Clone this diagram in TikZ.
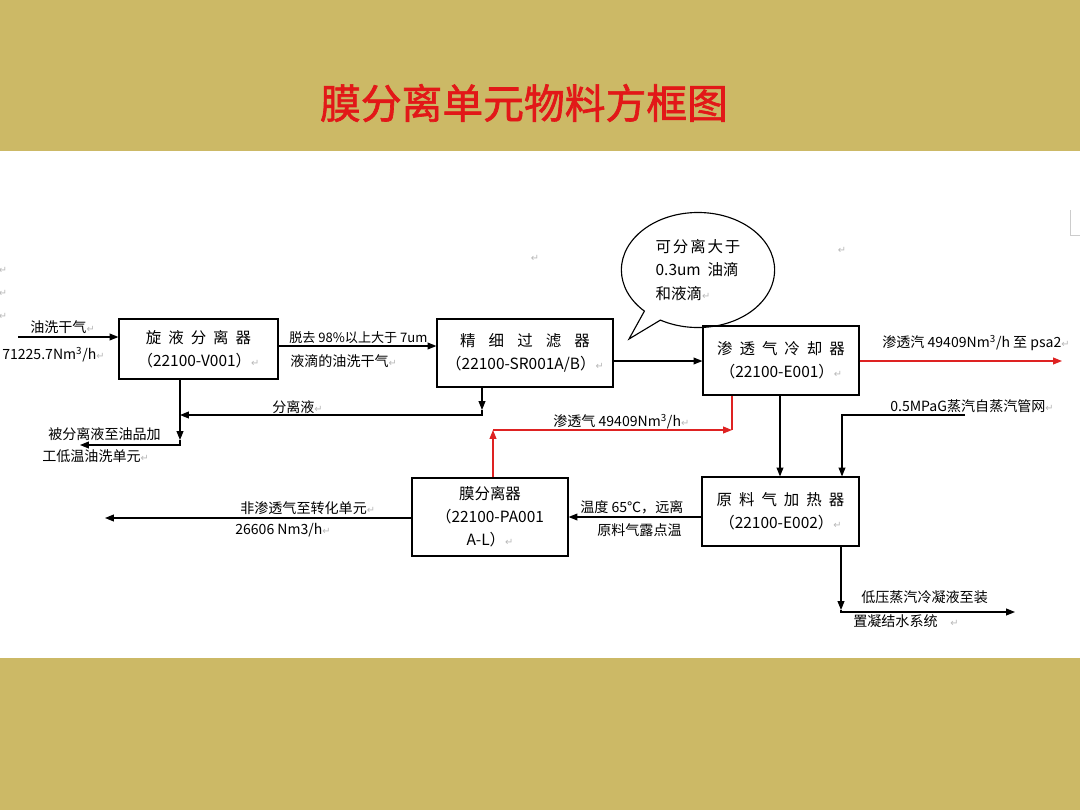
\documentclass[tikz,border=0pt]{standalone}
\usepackage{fontspec}
\setmainfont{Noto Sans CJK SC}
\newfontfamily\markfont{DejaVu Sans}
\newfontfamily\widefont[LetterSpace=45]{Noto Sans CJK SC}
\newfontfamily\widerfont[LetterSpace=85]{Noto Sans CJK SC}
\newfontfamily\notefont[LetterSpace=12]{Noto Sans CJK SC}
\newfontfamily\headfont[FakeBold=1.6]{Noto Sans CJK SC}
\usetikzlibrary{arrows.meta,shapes.geometric,shapes.callouts}
\definecolor{band}{RGB}{204,185,102}
\definecolor{titlered}{RGB}{226,24,24}
\definecolor{flowred}{RGB}{222,34,34}
\newcommand{\ret}{{\markfont\color{gray!55}\fontsize{7}{7}\selectfont ↵}}

\begin{document}
\begin{tikzpicture}[
  x=0.025cm, y=-0.025cm,
  box/.style={draw, line width=0.8pt, align=center, inner sep=0pt, font=\fontsize{11}{16.3}\selectfont},
  lbl/.style={anchor=west, inner sep=0pt, font=\fontsize{10}{12}\selectfont},
  arr/.style={line width=0.8pt, -{Triangle[length=2.2mm,width=1.7mm]}},
  redarr/.style={arr, draw=flowred, color=flowred},
  redline/.style={line width=0.8pt, draw=flowred}
]
\useasboundingbox (0,0) rectangle (1080,810);
% page
\fill[band] (0,0) rectangle (1080,151);
\fill[white] (0,151) rectangle (1080,658);
\fill[band] (0,658) rectangle (1080,810);
\node[text=titlered, font=\headfont\fontsize{29}{30}\selectfont] (title) at (524,103) {膜分离单元物料方框图};

% units
\node[box, minimum width=3.975cm, minimum height=1.5cm] (cyclone) at (198.5,349)
  {{\widefont 旋液分离器}\\（22100-V001）\ret};
\node[box, minimum width=4.4cm, minimum height=1.7cm] (filter) at (525,353)
  {{\widerfont 精细过滤器}\\（22100-SR001A/B）\ret};
\node[box, minimum width=3.9cm, minimum height=1.725cm] (cooler) at (781,360.5)
  {{\widefont 渗透气冷却器}\\（22100-E001）\ret};
\node[box, minimum width=3.925cm, minimum height=1.725cm] (heater) at (780.5,511.5)
  {{\widefont 原料气加热器}\\（22100-E002）\ret};
\node[box, minimum width=3.9cm, minimum height=1.95cm] (membrane) at (490,517)
  {膜分离器\\（22100-PA001\\A-L）\ret};

% note
\node[ellipse callout, draw, line width=0.8pt, minimum width=3.83cm, minimum height=2.875cm,
  inner sep=0pt, callout absolute pointer={(629,339)}, align=left,
  font=\fontsize{11}{17}\selectfont] (note) at (698,270)
  {{\notefont 可分离大于}\\0.3um\ \ 油滴\\和液滴\ret};

% free ends
\coordinate (feed) at (18,337);
\coordinate (j1) at (180,440);
\coordinate (oilout) at (80,445);
\coordinate (j2) at (482,410);
\coordinate (j2b) at (180,415);
\coordinate (psa) at (1062,361);
\coordinate (steam) at (965,415);
\coordinate (r1) at (493,430);
\coordinate (r2) at (732,430);
\coordinate (nonperm) at (105,518);
\coordinate (j4) at (841,610);
\coordinate (cond) at (1015,612);

% flows
\draw[arr] (feed) -- (cyclone.west |- feed);
\draw[arr] (cyclone.east |- 0,346) -- (filter.west |- 0,346);
\draw[arr] (filter.east |- 0,361) -- (cooler.west |- 0,361);
\draw[redarr] (cooler.east |- psa) -- (psa);
\draw[arr] (cyclone.south -| j1) -- (j1);
\draw[arr] (j1) |- (oilout);
\draw[arr] (filter.south -| j2) -- (j2);
\draw[arr] (j2) |- (j2b);
\draw[arr] (cooler.south -| 780,0) -- (heater.north -| 780,0);
\draw[arr] (steam) -| (heater.north -| 842,0);
\draw[redline] (r2) -- (cooler.south -| r2);
\draw[redarr] (membrane.north -| r1) -- (r1);
\draw[redarr] (r1) -- (r2);
\draw[arr] (heater.west |- 0,517) -- (membrane.east |- 0,517);
\draw[arr] (membrane.west |- nonperm) -- (nonperm);
\draw[arr] (heater.south -| j4) -- (j4);
\draw[arr] (j4) |- (cond);

% labels
\node[lbl] (feedname) at (30,327) {油洗干气\ret};
\node[lbl] (feedrate) at (2,355) {71225.7Nm\textsuperscript{3}/h\ret};
\node[lbl, font=\fontsize{9.3}{11}\selectfont] (gas1) at (289,338) {脱去 98\%以上大于 7um};
\node[lbl] (gas2) at (290,361) {液滴的油洗干气\ret};
\node[lbl] (liq) at (272,407) {分离液\ret};
\node[lbl] (oil1) at (48,434) {被分离液至油品加};
\node[lbl] (oil2) at (42,456) {工低温油洗单元\ret};
\node[lbl] (perm1) at (882,343) {渗透汽 49409Nm\textsuperscript{3}/h 至 psa2\ret};
\node[lbl] (steamlbl) at (890,406) {0.5MPaG蒸汽自蒸汽管网\ret};
\node[lbl] (perm2) at (553,422) {渗透气 49409Nm\textsuperscript{3}/h\ret};
\node[lbl] (temp1) at (580,507) {温度 65℃，远离};
\node[lbl] (temp2) at (597,530) {原料气露点温};
\node[lbl] (np1) at (240,508) {非渗透气至转化单元\ret};
\node[lbl] (np2) at (235,530) {26606 Nm3/h\ret};
\node[lbl] (cond1) at (861,597) {低压蒸汽冷凝液至装};
\node[lbl] (cond2) at (853,621) {置凝结水系统\ \ \ \ \ret};

% stray marks
\node[inner sep=0pt] (m1) at (535,258) {\ret};
\node[inner sep=0pt] (m2) at (842,250) {\ret};
\node[inner sep=0pt] (m3) at (3,270) {\ret};
\node[inner sep=0pt] (m4) at (3,293) {\ret};
\node[inner sep=0pt] (m5) at (3,316) {\ret};
\draw[gray!40] (1070,210) -- (1070,235) -- (1080,235);
\end{tikzpicture}
\end{document}
